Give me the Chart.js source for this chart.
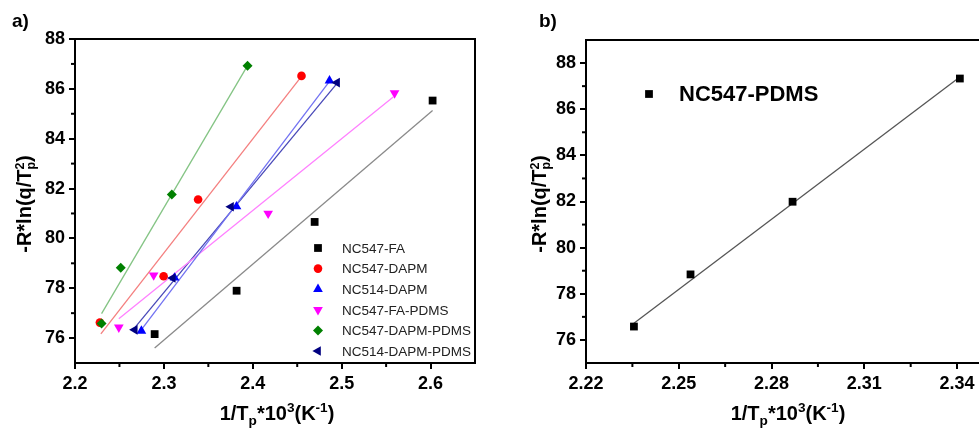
<!DOCTYPE html>
<html>
<head>
<meta charset="utf-8">
<script src="https://cdn.jsdelivr.net/npm/chart.js@4.4.0/dist/chart.umd.min.js"></script>
<style>
  html, body { margin: 0; padding: 0; background: #fff; overflow: hidden; }
  body { width: 979px; height: 432px; position: relative; font-family: "Liberation Sans", Arial, sans-serif; }
  canvas { position: absolute; top: 0; }
  #chartA { left: 0; }
  #chartB { left: 500px; }
  .lbl { position: absolute; font-weight: bold; color: #000; white-space: nowrap; }
  .panel { font-size: 19px; }
  .ytitle { font-size: 20px; transform: translate(-50%, -50%) rotate(-90deg); }
  .xtitle { font-size: 20px; transform: translate(-50%, -50%); }
  sub, sup { font-size: 0.68em; line-height: 0; }
  .stack { display: inline-flex; flex-direction: column; vertical-align: middle; line-height: 0.85; font-size: 0.62em; }
</style>
</head>
<body>
<canvas id="chartA" width="490" height="432"></canvas>
<canvas id="chartB" width="500" height="432"></canvas>

<div class="lbl panel" style="left:12px; top:10px;">a)</div>
<div class="lbl panel" style="left:539px; top:10px;">b)</div>
<div class="lbl ytitle" style="left:25px; top:204px;">-R*ln(q/T<span class="stack"><span>2</span><span>p</span></span>)</div>
<div class="lbl ytitle" style="left:540px; top:204px;">-R*ln(q/T<span class="stack"><span>2</span><span>p</span></span>)</div>
<div class="lbl xtitle" style="left:277px; top:413px;">1/T<sub>p</sub>*10<sup>3</sup>(K<sup>-1</sup>)</div>
<div class="lbl xtitle" style="left:788px; top:413px;">1/T<sub>p</sub>*10<sup>3</sup>(K<sup>-1</sup>)</div>

<script>
// ---- panel a data ----
const xTicksA = [2.2, 2.3, 2.4, 2.5, 2.6];
const yTicksA = [76, 78, 80, 82, 84, 86, 88];

const fa_x = [2.2896, 2.3818, 2.4696, 2.6023];
const fa_y = [76.16, 77.90, 80.66, 85.53];
const fa_fitX = [2.2896, 2.6023];
const fa_fitY = [75.60, 85.13];

const dapm_x = [2.2280, 2.2997, 2.3385, 2.4548];
const dapm_y = [76.62, 78.48, 81.56, 86.52];
const dapm_fitX = [2.2291, 2.4548];
const dapm_fitY = [76.17, 86.50];

const n514_x = [2.2747, 2.3120, 2.3817, 2.4863];
const n514_y = [76.29, 78.42, 81.28, 86.33];
const n514_fitX = [2.2760, 2.4863];
const n514_fitY = [76.40, 86.30];

const faPdms_x = [2.2493, 2.2885, 2.4173, 2.5595];
const faPdms_y = [76.43, 78.52, 81.00, 85.83];
const faPdms_fitX = [2.2493, 2.5580];
const faPdms_fitY = [76.78, 85.67];

const dapmPdms_x = [2.2299, 2.2515, 2.3089, 2.3941];
const dapmPdms_y = [76.58, 78.82, 81.76, 86.93];
const dapmPdms_fitX = [2.2299, 2.3941];
const dapmPdms_fitY = [76.98, 86.93];

const n514Pdms_x = [2.2672, 2.3100, 2.3755, 2.4948];
const n514Pdms_y = [76.33, 78.41, 81.27, 86.25];
const n514Pdms_fitX = [2.2680, 2.4948];
const n514Pdms_fitY = [76.45, 86.22];

// ---- panel b data ----
const xTicksB = [2.22, 2.25, 2.28, 2.31, 2.34];
const yTicksB = [76, 78, 80, 82, 84, 86, 88];
const pdms_x = [2.2355, 2.2538, 2.2868, 2.3409];
const pdms_y = [76.58, 78.84, 81.99, 87.33];
const pdms_fitX = [2.2355, 2.3409];
const pdms_fitY = [76.72, 87.40];

function pts(xs, ys) {
    return xs.map((x, i) => ({ x: x, y: ys[i] }));
}

// marker dataset + its fit line
function series(label, xs, ys, fx, fy, color, lineColor, pointStyle, radius, rotation, idx) {
    return [{
        label: label,
        data: pts(xs, ys),
        showLine: false,
        backgroundColor: color,
        borderColor: color,
        pointStyle: pointStyle,
        pointRadius: radius,
        pointHoverRadius: radius,
        pointRotation: rotation,
        pointBorderWidth: 0,
        order: -idx
    }, {
        label: label + ' fit',
        isFit: true,
        data: pts(fx, fy),
        showLine: true,
        borderColor: lineColor,
        borderWidth: 1.3,
        pointRadius: 0,
        fill: false,
        order: 10
    }];
}

// draws the box frame and the minor ticks
const frameMinor = {
    id: 'frameMinor',
    afterDraw(chart) {
        const ctx = chart.ctx;
        const a = chart.chartArea;
        ctx.save();
        ctx.strokeStyle = '#000';
        ctx.lineWidth = 2;
        ctx.strokeRect(a.left, a.top, a.right - a.left, a.bottom - a.top);
        ['x', 'y'].forEach(id => {
            const s = chart.scales[id];
            const vals = s.ticks.map(t => t.value);
            const step = vals[1] - vals[0];
            for (let v = vals[0] - step / 2; v < s.max; v += step) {
                if (v <= s.min + 1e-9 || v >= s.max - 1e-9) continue;
                const p = s.getPixelForValue(v);
                ctx.beginPath();
                if (id === 'x') { ctx.moveTo(p, a.bottom); ctx.lineTo(p, a.bottom + 4); }
                else { ctx.moveTo(a.left, p); ctx.lineTo(a.left - 4, p); }
                ctx.stroke();
            }
        });
        ctx.restore();
    }
};

// legend drawn inside the plot area
const insideLegend = {
    id: 'insideLegend',
    afterDatasetsDraw(chart, args, opts) {
        const ctx = chart.ctx;
        const items = chart.data.datasets.filter(d => !d.isFit);
        ctx.save();
        items.forEach((ds, i) => {
            const y = opts.y + i * opts.gap;
            ctx.fillStyle = ds.backgroundColor;
            ctx.strokeStyle = ds.borderColor;
            Chart.helpers.drawPoint(ctx, {
                pointStyle: ds.pointStyle,
                rotation: ds.pointRotation,
                radius: ds.pointRadius * opts.scale,
                borderWidth: 0
            }, opts.x, y);
            ctx.fillStyle = opts.color;
            ctx.font = opts.font;
            ctx.textBaseline = 'middle';
            ctx.textAlign = 'left';
            ctx.fillText(ds.label, opts.textX, y + 1);
        });
        ctx.restore();
    }
};

function axis(min, max, ticks, decimals, fit) {
    return {
        type: 'linear',
        min: min,
        max: max,
        afterBuildTicks: s => { s.ticks = ticks.map(v => ({ value: v })); },
        afterFit: fit,
        grid: { drawOnChartArea: false, drawTicks: true, tickLength: 6, color: '#000', lineWidth: 2 },
        border: { display: true, color: '#000', width: 2 },
        ticks: {
            color: '#000',
            padding: 4,
            autoSkip: false,
            maxRotation: 0,
            font: { family: 'Liberation Sans', size: 18, weight: 'bold' },
            callback: v => Number(v).toFixed(decimals)
        }
    };
}

const datasetsA = [].concat(
    series('NC547-FA', fa_x, fa_y, fa_fitX, fa_fitY, '#000000', '#8a8a8a', 'rect', 5.5, 0, 0),
    series('NC547-DAPM', dapm_x, dapm_y, dapm_fitX, dapm_fitY, '#ff0000', '#f47f7f', 'circle', 4.3, 0, 1),
    series('NC514-DAPM', n514_x, n514_y, n514_fitX, n514_fitY, '#0000ff', '#7272f2', 'triangle', 5.6, 0, 2),
    series('NC547-FA-PDMS', faPdms_x, faPdms_y, faPdms_fitX, faPdms_fitY, '#ff00ff', '#ff80ff', 'triangle', 5.6, 180, 3),
    series('NC547-DAPM-PDMS', dapmPdms_x, dapmPdms_y, dapmPdms_fitX, dapmPdms_fitY, '#008000', '#84c484', 'rectRot', 5, 0, 4),
    series('NC514-DAPM-PDMS', n514Pdms_x, n514Pdms_y, n514Pdms_fitX, n514Pdms_fitY, '#000080', '#4848b8', 'triangle', 5.6, -90, 5)
);

new Chart(document.getElementById('chartA'), {
    type: 'scatter',
    data: { datasets: datasetsA },
    options: {
        responsive: false,
        animation: false,
        layout: { padding: { left: 0, right: 15, top: 39, bottom: 0 } },
        scales: {
            x: axis(2.2, 2.65, xTicksA, 1, s => { s.height = 69; }),
            y: axis(75, 88, yTicksA, 0, s => { s.width = 75; })
        },
        plugins: {
            legend: { display: false },
            tooltip: { enabled: false },
            insideLegend: { x: 318, y: 248, gap: 20.6, textX: 342, scale: 1, font: '13.5px "Liberation Sans"', color: '#222' }
        }
    },
    plugins: [frameMinor, insideLegend]
});

const datasetsB = series('NC547-PDMS', pdms_x, pdms_y, pdms_fitX, pdms_fitY, '#000000', '#555555', 'rect', 5.5, 0, 0);

new Chart(document.getElementById('chartB'), {
    type: 'scatter',
    data: { datasets: datasetsB },
    options: {
        responsive: false,
        animation: false,
        layout: { padding: { left: 0, right: 12, top: 40, bottom: 0 } },
        scales: {
            x: axis(2.22, 2.35, xTicksB, 2, s => { s.height = 69; }),
            y: axis(75, 89, yTicksB, 0, s => { s.width = 86; })
        },
        plugins: {
            legend: { display: false },
            tooltip: { enabled: false },
            insideLegend: { x: 149, y: 94, gap: 20, textX: 179, scale: 1, font: 'bold 22px "Liberation Sans"', color: '#000' }
        }
    },
    plugins: [frameMinor, insideLegend]
});
</script>
</body>
</html>
